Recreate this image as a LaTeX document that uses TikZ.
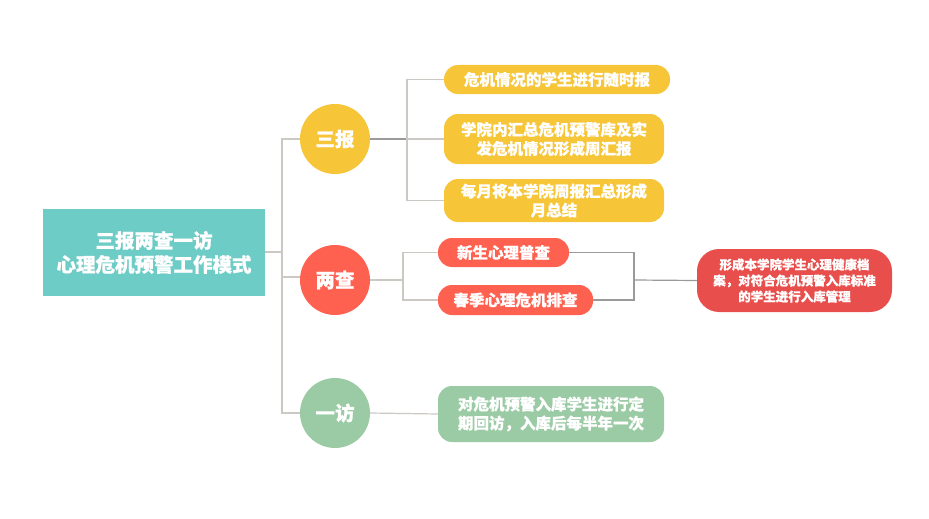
\documentclass[tikz,border=0pt]{standalone}
\usepackage{fontspec}
\setmainfont{Noto Sans CJK SC}[BoldFeatures={FakeBold=0.6}]
\usetikzlibrary{positioning}
\definecolor{teal}{HTML}{6ECCC6}
\definecolor{yel}{HTML}{F6C538}
\definecolor{red1}{HTML}{FF6150}
\definecolor{red2}{HTML}{E84F4C}
\definecolor{grn}{HTML}{9BCBA4}
\definecolor{lnl}{HTML}{CCC8C4}
\definecolor{lnd}{HTML}{9A9A9A}
\tikzset{
  conn/.style={draw=lnl, line width=1.2pt},
  connd/.style={draw=lnd, line width=1.2pt},
  circ/.style={circle, minimum size=70pt, inner sep=0pt, text=white, font=\bfseries\fontsize{19.5}{22}\selectfont},
  leaf/.style={rounded corners=14pt, text=white, inner sep=0pt, align=center, font=\bfseries\fontsize{15.5}{19}\selectfont},
}
\begin{document}
\begin{tikzpicture}[x=1pt,y=-1pt]
\useasboundingbox (0,0) rectangle (929,519);
% root
\node[fill=teal, minimum width=222pt, minimum height=87pt, inner sep=0pt, text=white, align=center,
  font=\bfseries\fontsize{19.5}{24}\selectfont] (root) at (154,252.5) {三报两查一访\\心理危机预警工作模式};
% circles
\node[circ, fill=yel] (sb) at (335,139) {三报};
\node[circ, fill=red1] (lc) at (335,280) {两查};
\node[circ, fill=grn] (yf) at (335,413) {一访};
% 三报 leaves
\node[leaf, fill=yel, minimum width=226pt, minimum height=29pt] (b1) at (557,79.5) {危机情况的学生进行随时报};
\node[leaf, fill=yel, minimum width=220pt, minimum height=50pt] (b2) at (554,139) {学院内汇总危机预警库及实\\发危机情况形成周汇报};
\node[leaf, fill=yel, minimum width=220pt, minimum height=43pt] (b3) at (554,200.5) {每月将本学院周报汇总形成\\月总结};
% 两查 leaves
\node[leaf, fill=red1, minimum width=131pt, minimum height=29pt] (c1) at (503.5,252.5) {新生心理普查};
\node[leaf, fill=red1, minimum width=155pt, minimum height=30pt] (c2) at (515.5,300) {春季心理危机排查};
\node[fill=red2, rounded corners=22pt, minimum width=195pt, minimum height=63pt, inner sep=0pt, text=white, align=center,
  font=\bfseries\fontsize{12.5}{16}\selectfont] (r1) at (794.5,280.5) {形成本学院学生心理健康档\\案，对符合危机预警入库标准\\的学生进行入库管理};
% 一访 leaf
\node[leaf, fill=grn, minimum width=226pt, minimum height=56pt] (d1) at (551,414) {对危机预警入库学生进行定\\期回访，入库后每半年一次};
% coordinates
\coordinate (sp) at (282,252);
\coordinate (spm) at (282,277);
\coordinate (lcw) at (300,277);
\coordinate (sp1) at (407,139);
\coordinate (sp2) at (403,280);
\coordinate (sp3) at (634,280);
% connectors root
\draw[conn] (root.east |- sp) -- (sp);
\draw[conn] (sb.west) -| (sp) |- (yf.west);
\draw[conn] (spm) -- (lcw);
% 三报
\draw[connd] (sb.east) -- (sp1);
\draw[conn] (sp1) -- (b2.west);
\draw[conn] (b1.west) -| (sp1) |- (b3.west);
% 两查
\draw[conn] (lc.east) -- (sp2);
\draw[conn] (c1.west) -| (sp2) |- (c2.west);
\draw[connd] (c1.east) -| (sp3) |- (c2.east);
\draw[connd] (sp3) -- (r1.west);
% 一访
\draw[conn] (yf.east) -- (d1.west);
\end{tikzpicture}
\end{document}
